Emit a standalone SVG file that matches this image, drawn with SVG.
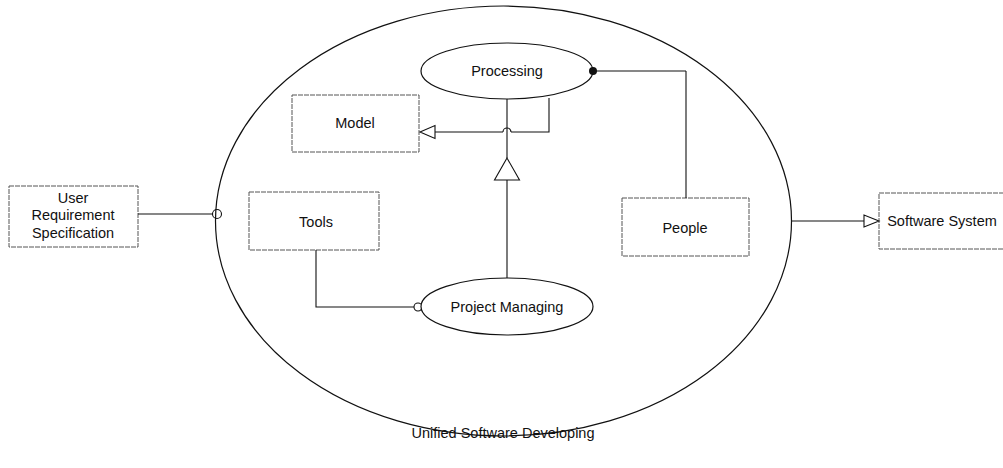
<svg xmlns="http://www.w3.org/2000/svg" width="1003" height="468" viewBox="0 0 1003 468">
<style>
.box{fill:#fff;stroke:#555;stroke-width:1;stroke-dasharray:5 1}
.ell{fill:none;stroke:#111;stroke-width:1.2}
.uc{fill:#fff;stroke:#111;stroke-width:1.2}
.ln{fill:none;stroke:#111;stroke-width:1.1}
.tri{fill:#fff;stroke:#111;stroke-width:1.1}
text{font-family:"Liberation Sans",Arial,sans-serif;font-size:14.5px;fill:#111;text-anchor:middle}
</style>
<rect width="1003" height="468" fill="#fff"/>
<g id="unified">
<ellipse class="ell" cx="503.5" cy="221" rx="288" ry="215"/>
</g>
<g id="urs">
<rect class="box" x="9" y="186" width="129" height="61"/>
<text x="73" y="203">User</text>
<text x="73" y="220">Requirement</text>
<text x="73" y="238">Specification</text>
</g>
<g id="model">
<rect class="box" x="292" y="95" width="127" height="57"/>
<text x="355" y="128">Model</text>
</g>
<g id="tools">
<rect class="box" x="249" y="192" width="130" height="58"/>
<text x="316" y="227">Tools</text>
</g>
<g id="people">
<rect class="box" x="622" y="198" width="127" height="58"/>
<text x="685" y="233">People</text>
</g>
<g id="software">
<rect class="box" x="879" y="193" width="130" height="56"/>
<text x="942" y="226">Software System</text>
</g>
<g id="connectors">
<line class="ln" x1="138" y1="214" x2="213" y2="214"/>
<circle class="ln" cx="217" cy="214" r="4.5"/>
<path class="ln" d="M686,71 L686,198"/>
<path class="ln" d="M593,71 L686,71"/>
<path class="ln" d="M549,98 L549,132 L511,132 M503,132 L435,132"/>
<path class="ln" d="M503,132 A4,4 0 0 1 511,132"/>
<polygon class="tri" points="420,132 435,125.5 435,138.5"/>
<path class="ln" d="M507,99 L507,158 M507,180 L507,278"/>
<polygon class="tri" points="507,158 494.5,180 519.5,180"/>
<path class="ln" d="M316,250 L316,307 L414,307"/>
<circle class="ln" cx="418" cy="307" r="4"/>
<line class="ln" x1="792" y1="221" x2="864" y2="221"/>
<polygon class="tri" points="879,221 864,215 864,227"/>
</g>
<g id="processing">
<ellipse class="uc" cx="507" cy="71" rx="86" ry="28"/>
<text x="507" y="76">Processing</text>
<circle cx="593" cy="71" r="4" fill="#111"/>
</g>
<g id="project">
<ellipse class="uc" cx="507" cy="306.5" rx="86" ry="28.5"/>
<text x="507" y="312">Project Managing</text>
</g>
<text x="503" y="438">Unified Software Developing</text>
</svg>
